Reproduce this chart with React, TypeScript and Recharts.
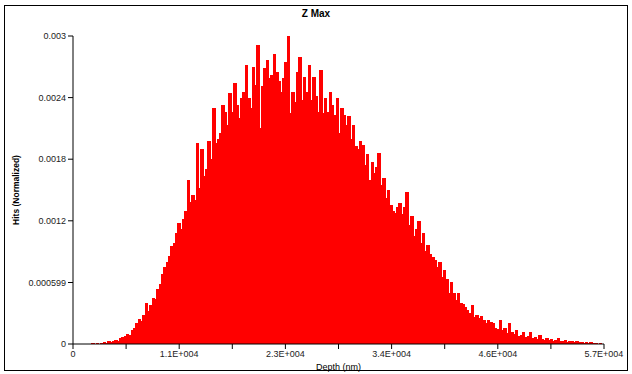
import React from 'react';
import { BarChart, Bar, XAxis, YAxis, Label } from 'recharts';

// histogram bins, 250 nm wide, starting at 0
const binWidth = 250;

// normalized hits per bin, in units of 1e-5
const hitsE5 = [
  0, 0, 0, 0, 0, 0, 0, 0,
  1, 0, 1, 0, 1, 2, 1, 3, 2, 3, 4, 3,
  6, 7, 8, 10, 9, 14, 16, 20, 24, 22,
  28, 40, 32, 38, 45, 44, 54, 58, 68, 75,
  80, 86, 95, 98, 108, 118, 112, 122, 130, 160,
  138, 145, 140, 196, 152, 190, 164, 170, 198, 180,
  230, 196, 200, 206, 233, 226, 213, 244, 226, 254,
  233, 220, 240, 245, 272, 240, 230, 270, 252, 291,
  210, 251, 269, 277, 259, 262, 282, 265, 256, 245,
  259, 275, 300, 225, 245, 236, 265, 280, 238, 260,
  245, 272, 238, 260, 242, 226, 267, 225, 240, 226,
  245, 233, 223, 240, 206, 230, 223, 213, 222, 200,
  213, 193, 190, 198, 194, 174, 185, 160, 177, 167,
  172, 186, 155, 162, 142, 150, 135, 130, 128, 133,
  137, 127, 133, 148, 116, 125, 105, 112, 120, 98,
  108, 91, 96, 88, 85, 82, 75, 80, 65, 72,
  63, 50, 60, 50, 43, 50, 40, 39, 36, 33,
  30, 38, 26, 28, 25, 27, 23, 20, 23, 21,
  20, 16, 15, 23, 14, 16, 11, 20, 12, 10,
  14, 8, 9, 12, 7, 8, 12, 6, 7, 5,
  9, 5, 4, 6, 4, 5, 3, 4, 6, 3,
  3, 4, 2, 3, 3, 2, 3, 2, 2, 1,
  2, 1, 2, 1, 1, 0, 1, 0,
];

const xTicks = [0, 5700, 11400, 17100, 22800, 28500, 34200, 39900, 45600, 51300, 57000];
const xTickLabels = ['0', '', '1.1E+004', '', '2.3E+004', '', '3.4E+004', '', '4.6E+004', '', '5.7E+004'];
const yTicks = [0, 0.000599, 0.0012, 0.0018, 0.0024, 0.003];
const yTickLabels = ['0', '0.000599', '0.0012', '0.0018', '0.0024', '0.003'];

const data = hitsE5.map((h, i) => ({ depth: (i + 0.5) * binWidth, hits: h / 100000 }));

const font = '"Liberation Sans", Arial, sans-serif';

// plain rect, widened so neighbouring bins overlap and no hairline gaps show
const HistBin = (props: any) => {
  const { x, y, width, height } = props;
  if (!height || height <= 0) return null;
  return <rect x={x - 0.6} y={y} width={width + 1.2} height={height} fill="#ff0000" shapeRendering="crispEdges" />;
};

export default function App() {
  return (
    <div style={{ position: 'absolute', left: 0, top: 0, width: 632, height: 374, background: '#fff', fontFamily: font }}>
      <div style={{ position: 'absolute', left: 4, top: 5, width: 622, height: 364, border: '1px solid #000' }} />
      <div style={{ position: 'absolute', left: 0, top: 8, width: 632, textAlign: 'center', fontSize: 10, fontWeight: 'bold', color: '#000' }}>
        Z Max
      </div>
      <BarChart
        width={632}
        height={374}
        data={data}
        margin={{ top: 36, right: 28, bottom: 0, left: 0 }}
        barCategoryGap={0}
        barGap={0}
      >
        <XAxis
          dataKey="depth"
          type="number"
          domain={[0, 57000]}
          ticks={xTicks}
          interval={0}
          tickFormatter={(v) => xTickLabels[xTicks.indexOf(v)]}
          height={30}
          stroke="#000"
          tickSize={5}
          tickMargin={2}
          tick={{ fontSize: 9, fill: '#222', fontFamily: font }}
        >
          <Label value="Depth (nm)" position="insideBottom" offset={4} style={{ fontSize: 9, fill: '#000', fontFamily: font }} />
        </XAxis>
        <YAxis
          type="number"
          domain={[0, 0.003]}
          ticks={yTicks}
          interval={0}
          tickFormatter={(v) => yTickLabels[yTicks.indexOf(v)]}
          width={73}
          stroke="#000"
          tickSize={5}
          tickMargin={2}
          tick={{ fontSize: 9, fill: '#222', fontFamily: font }}
        >
          <Label
            value="Hits (Normalized)"
            angle={-90}
            position="insideLeft"
            offset={16}
            style={{ fontSize: 8.5, fontWeight: 'bold', fill: '#000', textAnchor: 'middle', fontFamily: font }}
          />
        </YAxis>
        <Bar dataKey="hits" fill="#ff0000" barSize={2.3} shape={HistBin} isAnimationActive={false} />
      </BarChart>
    </div>
  );
}
